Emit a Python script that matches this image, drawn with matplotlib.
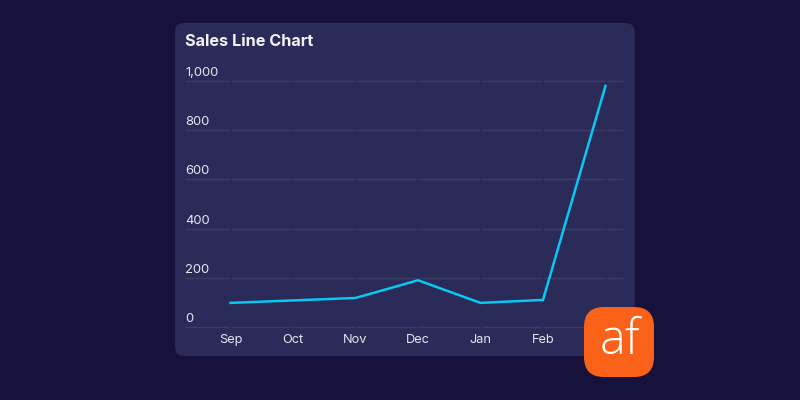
import matplotlib
matplotlib.use("Agg")
import matplotlib.pyplot as plt
from matplotlib.patches import FancyBboxPatch

months = ["Sep", "Oct", "Nov", "Dec", "Jan", "Feb", "Mar"]
sales = [98, 108, 118, 190, 98, 110, 980]
y_ticks = [0, 200, 400, 600, 800, 1000]
y_labels = ["0", "200", "400", "600", "800", "1,000"]

bg_color = "#17123c"
panel_color = "#2a2b58"
grid_color = "#3c3d67"
text_color = "#e6e6f0"
line_color = "#08c8f6"
logo_color = "#f96218"

plt.rcParams["font.family"] = ["Inter", "DejaVu Sans"]

fig = plt.figure(figsize=(8, 4), dpi=100, facecolor=bg_color)

# pixel overlay for the card and the logo
bg = fig.add_axes([0, 0, 1, 1], zorder=0)
bg.set_xlim(0, 800)
bg.set_ylim(400, 0)
bg.axis("off")
bg.add_patch(FancyBboxPatch((183, 31), 443.5, 317, boxstyle="round,pad=8,rounding_size=9",
                            fc=panel_color, ec="none"))
bg.text(185, 41, "Sales Line Chart", color="#f2f2f8", fontsize=11.7, fontweight="bold",
        va="center", ha="left")

# main chart, axes limits line up the months with the card
ax = fig.add_axes([185 / 800, (400 - 327) / 400, 438 / 800, 246 / 400], zorder=1)
ax.patch.set_alpha(0)
ax.set_xlim(-0.728, 6.28)
ax.set_ylim(0, 1000)
for s in ax.spines.values():
    s.set_visible(False)

ax.hlines(y_ticks, -0.728, 6.28, color=grid_color, lw=1, zorder=1, clip_on=False)
ax.vlines(range(len(months)), -8, 1008, color=panel_color, lw=1.2, zorder=1.5, clip_on=False)
ax.plot(months, sales, color=line_color, lw=1.8, zorder=3, solid_joinstyle="miter")

# the last month label is hidden behind the logo in the original
ax.set_xticks(range(len(months) - 1))
ax.set_xticklabels(months[:-1], color=text_color, fontsize=9.2)
ax.set_yticks([])
ax.tick_params(axis="x", length=0, pad=5)

for v, lab in zip(y_ticks, y_labels):
    ax.annotate(lab, xy=(0, v), xycoords=("axes fraction", "data"), xytext=(0, 1.5),
                textcoords="offset points", color=text_color, fontsize=9.4,
                ha="left", va="bottom")

# logo sits on top of the chart corner
top = fig.add_axes([0, 0, 1, 1], zorder=2)
top.set_xlim(0, 800)
top.set_ylim(400, 0)
top.axis("off")
top.add_patch(FancyBboxPatch((598, 321), 42, 42, boxstyle="round,pad=14,rounding_size=20",
                             fc=logo_color, ec="none"))
top.text(620, 341, "af", color="white", fontsize=35, fontfamily="Open Sans", fontweight="light",
         ha="center", va="center")

fig.savefig("out.png", dpi=100, facecolor=bg_color)
